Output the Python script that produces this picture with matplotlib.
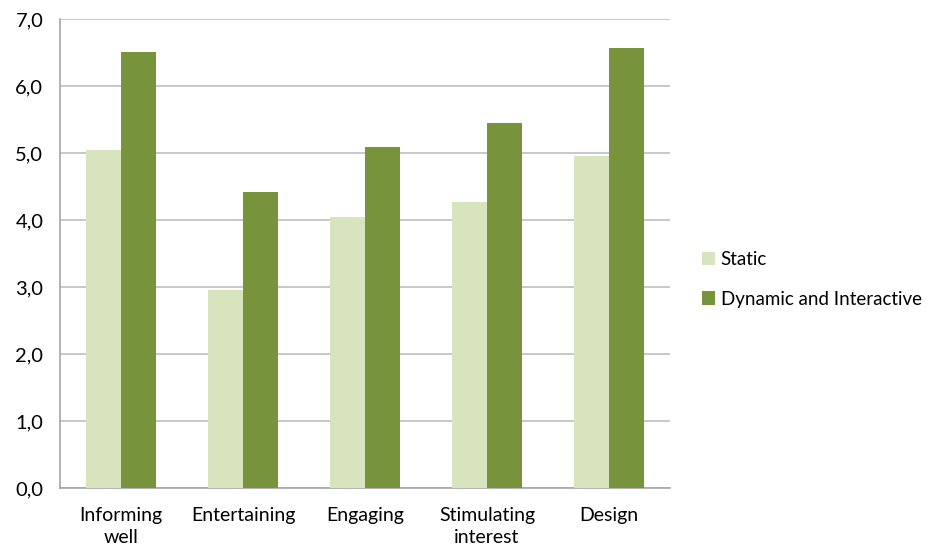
import matplotlib
matplotlib.use('Agg')
import matplotlib.pyplot as plt
import numpy as np

categories = ['Informing\nwell', 'Entertaining', 'Engaging', 'Stimulating\ninterest', 'Design']
static = [5.04, 2.96, 4.04, 4.27, 4.96]
dynamic = [6.51, 4.42, 5.09, 5.45, 6.57]
yticks = [0, 1, 2, 3, 4, 5, 6, 7]
ylabels = ['0,0', '1,0', '2,0', '3,0', '4,0', '5,0', '6,0', '7,0']

plt.rcParams['font.family'] = ['Lato', 'DejaVu Sans']

fig = plt.figure(figsize=(9.31, 5.47), dpi=100)
ax = fig.add_axes([0.0644, 0.1079, 0.6553, 0.8574])

x = np.arange(len(categories))
w = 0.287
ax.bar(x - w/2, static, w, color='#d7e4bd', label='Static', zorder=3)
ax.bar(x + w/2, dynamic, w, color='#77933c', label='Dynamic and Interactive', zorder=3)

ax.set_xlim(-0.5, len(categories) - 0.5)
ax.set_ylim(0, 7)
ax.set_yticks(yticks)
ax.set_yticklabels(ylabels, fontsize=14.5)
ax.set_xticks(x)
ax.set_xticklabels(categories, fontsize=14, linespacing=1.3)
ax.tick_params(axis='both', length=0)
ax.tick_params(axis='y', pad=12)
ax.tick_params(axis='x', pad=14)
ax.grid(axis='y', color='#bfbfbf', linewidth=1.2, zorder=0)
for s in ['top', 'right']:
    ax.spines[s].set_visible(False)
for s in ['left', 'bottom']:
    ax.spines[s].set_color('#a6a6a6')
    ax.spines[s].set_linewidth(1.2)

ax.legend(loc='center left', bbox_to_anchor=(1.04, 0.445), frameon=False, fontsize=13.5,
          handlelength=0.7, handleheight=0.7, handletextpad=0.3, labelspacing=1.2,
          borderaxespad=0)

plt.savefig('out.png', dpi=100)
